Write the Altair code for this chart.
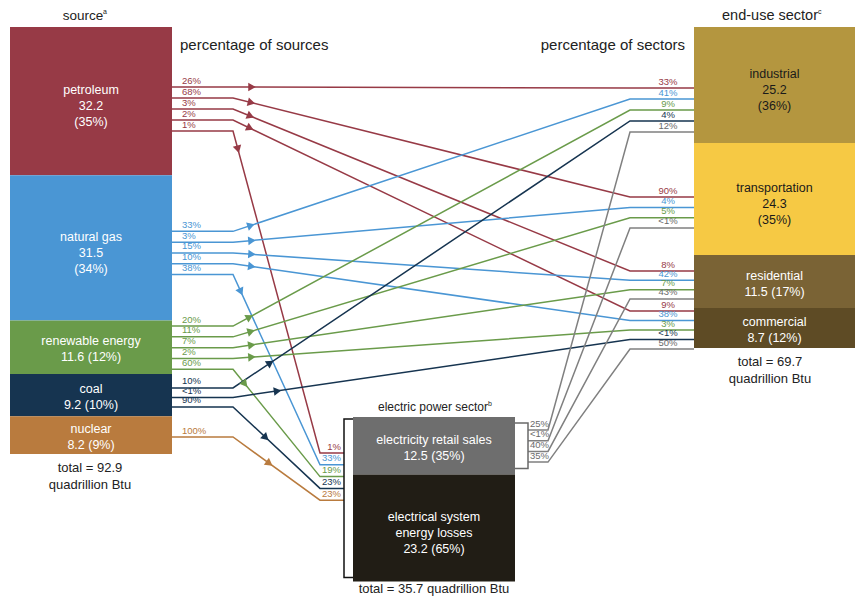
import math
import altair as alt
import pandas as pd

# ---------------- data ----------------
sources = ["petroleum", "natural gas", "renewable energy", "coal", "nuclear"]
source_values = [32.2, 31.5, 11.6, 9.2, 8.2]
source_shares = ["35%", "34%", "12%", "10%", "9%"]
source_total = 92.9

sectors = ["industrial", "transportation", "residential", "commercial"]
sector_values = [25.2, 24.3, 11.5, 8.7]
sector_shares = ["36%", "35%", "17%", "12%"]
sector_total = 69.7

power_parts = ["electricity retail sales", "electrical system energy losses"]
power_values = [12.5, 23.2]
power_shares = ["35%", "65%"]
power_total = 35.7

flow_from = ["petroleum"] * 5 + ["natural gas"] * 5 + ["renewable energy"] * 5 + ["coal"] * 3 + ["nuclear"] \
    + ["electricity retail sales"] * 4
flow_to = sectors + ["electric power"] + sectors + ["electric power"] + sectors + ["electric power"] \
    + ["industrial", "commercial", "electric power"] + ["electric power"] + sectors
pct_of_source = ["26%", "68%", "3%", "2%", "1%",
                 "33%", "3%", "15%", "10%", "38%",
                 "20%", "11%", "7%", "2%", "60%",
                 "10%", "<1%", "90%",
                 "100%",
                 "25%", "<1%", "40%", "35%"]
pct_of_target = ["33%", "90%", "8%", "9%", "1%",
                 "41%", "4%", "42%", "38%", "33%",
                 "9%", "5%", "7%", "3%", "19%",
                 "4%", "<1%", "23%",
                 "23%",
                 "12%", "<1%", "43%", "50%"]

# ---------------- styles / layout ----------------
fill = {"petroleum": "#973A46", "natural gas": "#4A96D4", "renewable energy": "#6A9B4A",
        "coal": "#163450", "nuclear": "#B97B3E",
        "industrial": "#B4963F", "transportation": "#F6C944", "residential": "#7A6335", "commercial": "#5E4B25",
        "electricity retail sales": "#6E6E6E", "electrical system energy losses": "#211D15"}
line_col = dict(fill)
line_col["electricity retail sales"] = "#808080"
txt_col = {"industrial": "#1a1a1a", "transportation": "#1a1a1a"}
FONT = "Liberation Sans"

K = 428 / source_total
SRC_X = (10, 172)
END_X = (694, 855)
PWR_X = (353, 515)
TOP = 27
PWR_TOP = 417
LINE_H = 16
# (first slot offset from box top, slot spacing)
slots_out = {"petroleum": (60, 11), "natural gas": (56, 10.8), "renewable energy": (5.6, 10.8),
             "coal": (14, 9.5), "nuclear": (20.7, 11), "electricity retail sales": (13, 10.7)}
slots_in = {"industrial": (61, 11), "transportation": (54, 10.3), "residential": (16, 9.3),
            "commercial": (3, 9.5), "electric power": (36, 11.8)}
KINK_SRC, KINK_END, KINK_PWR_IN, PWR_BRACKET_L, KINK_PWR_OUT, PWR_BRACKET_R = 233, 630, 320, 344, 548, 528

# ---------------- nodes ----------------
nodes = {}
rows = []


def label_for(name, v, sh, h):
    if name == "electrical system energy losses":
        return "electrical system\nenergy losses\n%s (%s)" % (v, sh)
    if h > 100:
        return "%s\n%s\n(%s)" % (name, v, sh)
    return "%s\n%s (%s)" % (name, v, sh)


for group, values, shares, x, top in [(sources, source_values, source_shares, SRC_X, TOP),
                                      (sectors, sector_values, sector_shares, END_X, TOP),
                                      (power_parts, power_values, power_shares, PWR_X, PWR_TOP)]:
    y = top
    for name, v, sh in zip(group, values, shares):
        h = v * K
        nodes[name] = dict(x0=x[0], x1=x[1], y0=y, y1=y + h)
        lab = label_for(name, v, sh, h)
        n = lab.count("\n") + 1
        first = y + h / 2 + (5 if n == 3 else 2) - (n - 1) * LINE_H / 2
        rows.append(dict(name=name, x0=x[0], x1=x[1], y0=y, y1=y + h, fill=fill[name],
                         label=lab, lx=(x[0] + x[1]) / 2, ly=first, tc=txt_col.get(name, "#ffffff")))
        y += h
nodes["electric power"] = dict(y0=PWR_TOP)
boxes = pd.DataFrame(rows)

# ---------------- flows ----------------
line_rows, arrow_rows, lab_l, lab_c, lab_r = [], [], [], [], []
cnt_out, cnt_in = {}, {}
for i, (f, t, pf, pt) in enumerate(zip(flow_from, flow_to, pct_of_source, pct_of_target)):
    a = cnt_out.get(f, 0); cnt_out[f] = a + 1
    b = cnt_in.get(t, 0); cnt_in[t] = b + 1
    ys = nodes[f]["y0"] + slots_out[f][0] + a * slots_out[f][1]
    ye = nodes[t]["y0"] + slots_in[t][0] + b * slots_in[t][1]
    c = line_col[f]
    if f == "electricity retail sales":
        pts = [(PWR_BRACKET_R, ys), (KINK_PWR_OUT, ys), (KINK_END, ye), (END_X[0], ye)]
        lab_l.append(dict(x=PWR_BRACKET_R + 2, y=ys - 1.5, t=pf, c="#6a6a6a"))
    elif t == "electric power":
        pts = [(SRC_X[1], ys), (KINK_SRC, ys), (KINK_PWR_IN, ye), (PWR_BRACKET_L, ye)]
        lab_l.append(dict(x=SRC_X[1] + 10, y=ys - 1.5, t=pf, c=c))
    else:
        pts = [(SRC_X[1], ys), (KINK_SRC, ys), (KINK_END, ye), (END_X[0], ye)]
        lab_l.append(dict(x=SRC_X[1] + 10, y=ys - 1.5, t=pf, c=c))
    if t == "electric power":
        lab_r.append(dict(x=PWR_BRACKET_L - 3, y=ye - 1.5, t=pt, c=c))
    else:
        lab_c.append(dict(x=668, y=ye - 1.5, t=pt, c=c if f != "electricity retail sales" else "#6a6a6a"))
    for j, (px, py) in enumerate(pts):
        line_rows.append(dict(fid="f%d" % i, o=j, x=px, y=py, c=c))
    if f != "electricity retail sales":
        (x1, y1), (x2, y2) = pts[1], pts[2]
        L = math.hypot(x2 - x1, y2 - y1)
        d = 45 if f in ("coal", "nuclear") else 19
        ang = math.degrees(math.atan2(y2 - y1, x2 - x1)) % 360
        arrow_rows.append(dict(x=x1 + (x2 - x1) * d / L, y=y1 + (y2 - y1) * d / L, a=ang, c=c))

# brackets around electric power sector
pb = nodes["electrical system energy losses"]["y1"]
rs = nodes["electricity retail sales"]
for j, (px, py) in enumerate([(PWR_X[0], PWR_TOP + 2), (PWR_BRACKET_L, PWR_TOP + 2),
                              (PWR_BRACKET_L, pb - 4), (PWR_X[0], pb - 4)]):
    line_rows.append(dict(fid="bl", o=j, x=px, y=py, c="#111111"))
for j, (px, py) in enumerate([(PWR_X[1], rs["y0"] + 6), (PWR_BRACKET_R, rs["y0"] + 6),
                              (PWR_BRACKET_R, rs["y1"] - 6), (PWR_X[1], rs["y1"] - 6)]):
    line_rows.append(dict(fid="br", o=j, x=px, y=py, c="#6a6a6a"))

lines = pd.DataFrame(line_rows)
arrows = pd.DataFrame(arrow_rows)

src_bottom = nodes["nuclear"]["y1"]
end_bottom = nodes["commercial"]["y1"]
headers = pd.DataFrame([
    dict(x=83, y=16, t="source", s=13.5),
    dict(x=770, y=16, t="end-use sector", s=14.5),
    dict(x=433, y=407, t="electric power sector", s=12),
    dict(x=90, y=src_bottom + 14, t="total = %s" % source_total, s=13),
    dict(x=90, y=src_bottom + 31, t="quadrillion Btu", s=13),
    dict(x=770, y=end_bottom + 14, t="total = %s" % sector_total, s=13),
    dict(x=770, y=end_bottom + 31, t="quadrillion Btu", s=13),
    dict(x=434, y=pb + 8, t="total = %s quadrillion Btu" % power_total, s=13),
])
sups = pd.DataFrame([dict(x=103, y=12, t="a"), dict(x=818, y=12, t="c"), dict(x=488, y=404, t="b")])
subheads = pd.DataFrame([dict(x=180, y=45, t="percentage of sources", al="left"),
                         dict(x=685, y=45, t="percentage of sectors", al="right")])

# ---------------- chart ----------------
xs = alt.Scale(domain=[8, 858], nice=False, zero=False)
ys_ = alt.Scale(domain=[8, 596], nice=False, zero=False, reverse=True)
X = lambda f: alt.X(f, scale=xs, axis=None)
Y = lambda f: alt.Y(f, scale=ys_, axis=None)

rect = alt.Chart(boxes).mark_rect().encode(
    x=X("x0:Q"), x2="x1:Q", y=Y("y0:Q"), y2="y1:Q", color=alt.Color("fill:N", scale=None))
box_text = alt.Chart(boxes).mark_text(font=FONT, fontSize=12.5, lineBreak="\n", lineHeight=LINE_H,
                                      baseline="middle", align="center").encode(
    x=X("lx:Q"), y=Y("ly:Q"), text="label:N", color=alt.Color("tc:N", scale=None))
flow_lines = alt.Chart(lines).mark_line(strokeWidth=1.5).encode(
    x=X("x:Q"), y=Y("y:Q"), detail="fid:N", order="o:Q", color=alt.Color("c:N", scale=None))
arrow_pts = alt.Chart(arrows).mark_point(shape="triangle-right", filled=True, size=75, opacity=1).encode(
    x=X("x:Q"), y=Y("y:Q"), angle=alt.Angle("a:Q", scale=None), color=alt.Color("c:N", scale=None))


def pct_layer(rows_, align):
    return alt.Chart(pd.DataFrame(rows_)).mark_text(font=FONT, fontSize=9.5, align=align, baseline="bottom").encode(
        x=X("x:Q"), y=Y("y:Q"), text="t:N", color=alt.Color("c:N", scale=None))


head = alt.Chart(headers).mark_text(font=FONT, color="#222222", baseline="middle", align="center").encode(
    x=X("x:Q"), y=Y("y:Q"), text="t:N", size=alt.Size("s:Q", scale=None))
sup = alt.Chart(sups).mark_text(font=FONT, color="#222222", fontSize=7, baseline="middle", align="left").encode(
    x=X("x:Q"), y=Y("y:Q"), text="t:N")
sub_l = alt.Chart(subheads[subheads.al == "left"]).mark_text(font=FONT, fontSize=15, color="#222222",
                                                             align="left", baseline="middle").encode(
    x=X("x:Q"), y=Y("y:Q"), text="t:N")
sub_r = alt.Chart(subheads[subheads.al == "right"]).mark_text(font=FONT, fontSize=15, color="#222222",
                                                              align="right", baseline="middle").encode(
    x=X("x:Q"), y=Y("y:Q"), text="t:N")

chart = alt.layer(
    rect, flow_lines, arrow_pts, box_text,
    pct_layer(lab_l, "left"), pct_layer(lab_c, "center"), pct_layer(lab_r, "right"),
    head, sup, sub_l, sub_r
).properties(
    width=850, height=588, padding=0, autosize=alt.AutoSizeParams(type="none")
).configure_view(stroke=None)

chart.save("out.html", embed_options={"renderer": "svg", "actions": False})
